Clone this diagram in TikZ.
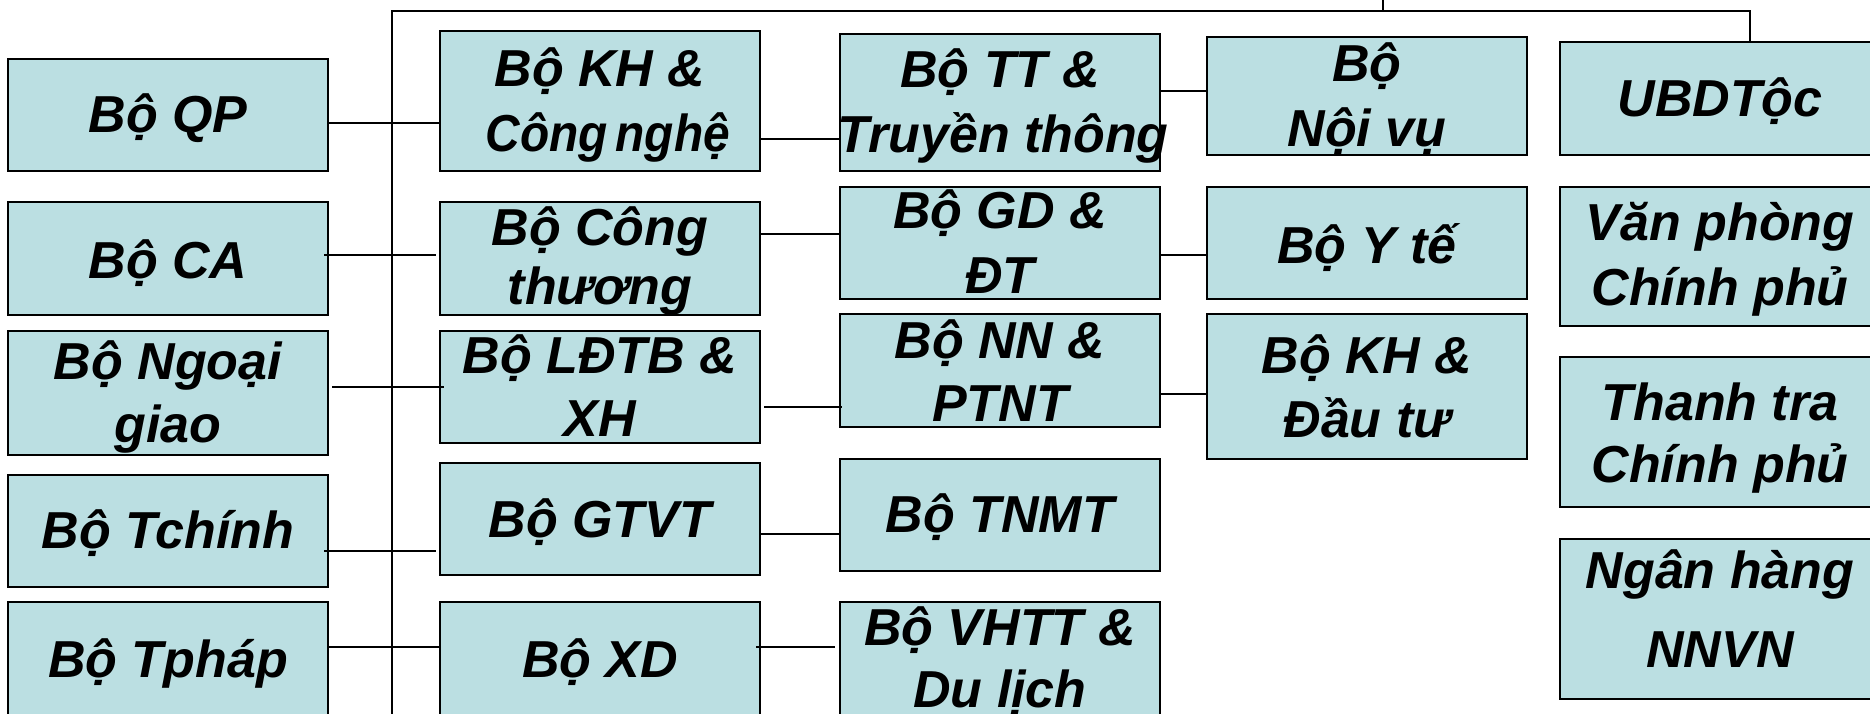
\documentclass[tikz,border=0pt]{standalone}
\usepackage{fontspec}
\setmainfont{Liberation Sans}
\definecolor{boxfill}{RGB}{187,223,226}
\begin{document}
\begin{tikzpicture}[x=1pt,y=-1pt,
  box/.style={draw=black, line width=2pt, fill=boxfill, inner sep=0pt, outer sep=0pt, minimum width=320pt},
  txt/.style={anchor=base, inner sep=0pt, font=\fontsize{52}{60}\selectfont\bfseries\itshape},
  conn/.style={draw=black, line width=2pt}]
\useasboundingbox (0,0) rectangle (1870,714);
% column 1
\node[box, minimum height=112pt] (qp) at (168,115) {};
\node[box, minimum height=113pt] (ca) at (168,258.5) {};
\node[box, minimum height=124pt] (ng) at (168,392.5) {};
\node[box, minimum height=112pt] (tc) at (168,531) {};
\node[box, minimum height=130pt] (tp) at (168,667) {};
% column 2
\node[box, minimum height=140pt] (kh) at (600,101) {};
\node[box, minimum height=113pt] (ct) at (600,258.5) {};
\node[box, minimum height=112pt] (ld) at (600,387) {};
\node[box, minimum height=112pt] (gt) at (600,519) {};
\node[box, minimum height=130pt] (xd) at (600,667) {};
% column 3
\node[box, minimum height=137pt] (tt) at (1000,102.5) {};
\node[box, minimum height=112pt] (gd) at (1000,243) {};
\node[box, minimum height=113pt] (nn) at (1000,370.5) {};
\node[box, minimum height=112pt] (tn) at (1000,515) {};
\node[box, minimum height=130pt] (vh) at (1000,667) {};
% column 4
\node[box, minimum height=118pt] (nv) at (1367,96) {};
\node[box, minimum height=112pt] (yt) at (1367,243) {};
\node[box, minimum height=145pt] (kd) at (1367,386.5) {};
% column 5
\node[box, minimum height=113pt] (ub) at (1720,98.5) {};
\node[box, minimum height=139pt] (vp) at (1720,256.5) {};
\node[box, minimum height=150pt] (tr) at (1720,432) {};
\node[box, minimum height=160pt] (nh) at (1720,619) {};
% texts
\node[txt] (qp-a) at (168,133) {Bộ QP};
\node[txt] (ca-a) at (168,278) {Bộ CA};
\node[txt] (ng-a) at (168,379) {Bộ Ngoại};
\node[txt] (ng-b) at (168,442) {giao};
\node[txt] (tc-a) at (168,548) {Bộ Tchính};
\node[txt] (tp-a) at (168,677) {Bộ Tpháp};
\node[txt] (kh-a) at (600,87) {Bộ KH \&};
\node[txt] (kh-b) at (608,152) {\scalebox{0.92}[1]{Công\hspace{-0.12em} nghệ}};
\node[txt] (ct-a) at (600,245) {Bộ Công};
\node[txt] (ct-b) at (600,304) {thương};
\node[txt] (ld-a) at (600,373) {Bộ LĐTB \&};
\node[txt] (ld-b) at (600,436) {XH};
\node[txt] (gt-a) at (600,537) {Bộ GTVT};
\node[txt] (xd-a) at (600,677) {Bộ XD};
\node[txt] (tt-a) at (1000,88) {Bộ TT \&};
\node[txt] (tt-b) at (1003,153) {Truyền thông};
\node[txt] (gd-a) at (1000,228) {Bộ GD \&};
\node[txt] (gd-b) at (1000,293) {ĐT};
\node[txt] (nn-a) at (1000,358) {Bộ NN \&};
\node[txt] (nn-b) at (1000,421) {PTNT};
\node[txt] (tn-a) at (1000,532) {Bộ TNMT};
\node[txt] (vh-a) at (1000,645) {Bộ VHTT \&};
\node[txt] (vh-b) at (1000,707) {Du lịch};
\node[txt] (nv-a) at (1367,82) {Bộ};
\node[txt] (nv-b) at (1367,147) {Nội vụ};
\node[txt] (yt-a) at (1367,263) {Bộ Y tế};
\node[txt] (kd-a) at (1367,373) {Bộ KH \&};
\node[txt] (kd-b) at (1367,437) {Đầu tư};
\node[txt] (ub-a) at (1720,117) {UBDTộc};
\node[txt] (vp-a) at (1720,240) {Văn phòng};
\node[txt] (vp-b) at (1720,305) {Chính phủ};
\node[txt] (tr-a) at (1720,420) {Thanh tra};
\node[txt] (tr-b) at (1720,482) {Chính phủ};
\node[txt] (nh-a) at (1720,588) {Ngân hàng};
\node[txt] (nh-b) at (1720,667) {NNVN};
% trunk
\coordinate (tl) at (392,11);
\coordinate (tb) at (392,720);
\coordinate (tm) at (1383,11);
\coordinate (tmu) at (1383,-5);
\coordinate (tr1) at (1750,11);
\draw[conn] (tb) -- (tl) -- (tr1) -- (tr1 |- ub.north);
\draw[conn] (tm) -- (tmu);
% column 1 -> column 2
\draw[conn] (qp.east |- 0,123) -- (kh.west |- 0,123);
\draw[conn] ([xshift=-4pt]ca.east |- 0,255) -- ([xshift=-4pt]ct.west |- 0,255);
\draw[conn] ([xshift=4pt]ng.east |- 0,387) -- ([xshift=4pt]ld.west |- 0,387);
\draw[conn] ([xshift=-4pt]tc.east |- 0,551) -- ([xshift=-4pt]gt.west |- 0,551);
\draw[conn] (tp.east |- 0,647) -- (xd.west |- 0,647);
% column 2 -> column 3
\draw[conn] (kh.east |- 0,139) -- (tt.west |- 0,139);
\draw[conn] (ct.east |- 0,234) -- (gd.west |- 0,234);
\draw[conn] ([xshift=4pt]ld.east |- 0,407) -- ([xshift=2pt]nn.west |- 0,407);
\draw[conn] (gt.east |- 0,534) -- (tn.west |- 0,534);
\draw[conn] ([xshift=-4pt]xd.east |- 0,647) -- ([xshift=-5pt]vh.west |- 0,647);
% column 3 -> column 4
\draw[conn] (tt.east |- 0,91) -- (nv.west |- 0,91);
\draw[conn] (gd.east |- 0,255) -- (yt.west |- 0,255);
\draw[conn] (nn.east |- 0,394) -- (kd.west |- 0,394);
\end{tikzpicture}
\end{document}
